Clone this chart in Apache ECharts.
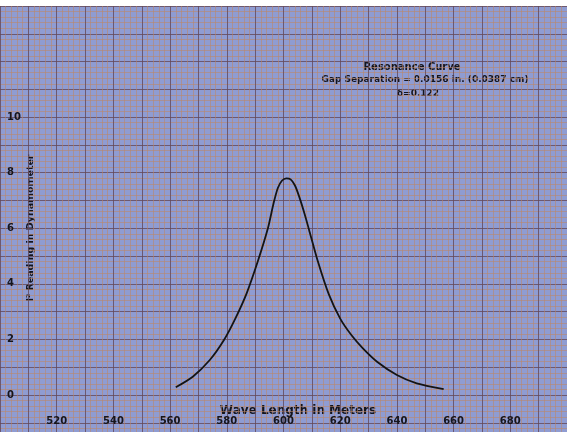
<!DOCTYPE html>
<html>
<head>
<meta charset="utf-8">
<script src="https://cdn.jsdelivr.net/npm/echarts@6/dist/echarts.min.js"></script>
<style>
  html, body { margin: 0; padding: 0; background: #fff; }
  #E1 { width: 567px; height: 432px; }
</style>
</head>
<body>
<div id="E1"></div>
<script>
// wave length (m) and dynamometer reading
var waveLength = [562, 568, 574, 579, 583, 587, 591, 594.5, 596.5, 598, 599.5, 601, 602.5,
                  604, 605.5, 607.5, 609, 612, 616, 620, 624, 628, 633, 640, 647, 656.5];
var reading = [0.28, 0.66, 1.26, 1.98, 2.75, 3.66, 4.83, 6.0, 6.9, 7.45, 7.72, 7.8, 7.76,
               7.55, 7.15, 6.5, 5.95, 4.85, 3.62, 2.75, 2.15, 1.68, 1.2, 0.72, 0.42, 0.21];
var xTicks = [520, 540, 560, 580, 600, 620, 640, 660, 680];
var yTicks = [0, 2, 4, 6, 8, 10];
var titleLines = ['Resonance Curve', 'Gap Separation = 0.0156 in. (0.0387 cm)', 'δ=0.122'];

~function () {
    var myChart = echarts.init(E1);
    var ink = '#15151c';
    var font = 'DejaVu Sans';
    var minorLine = {show: true, lineStyle: {color: 'rgba(190,135,100,0.55)', width: 1}};
    var majorLine = {show: true, lineStyle: {color: 'rgba(100,72,88,0.8)', width: 1}};

    var points = waveLength.map(function (w, i) { return [w, reading[i]]; });

    var option = {
        backgroundColor: '#ffffff',
        animation: false,
        grid: {
            show: true,
            outerBoundsMode: 'none',
            containLabel: false,
            left: 0,
            width: 567,
            top: 6,
            height: 444.6,
            backgroundColor: '#8f9cd2',
            borderWidth: 0
        },
        xAxis: {
            type: 'value',
            min: 500,
            max: 700,
            interval: 10,
            axisLine: {show: false},
            axisTick: {show: false},
            minorTick: {show: false, splitNumber: 5},
            minorSplitLine: minorLine,
            splitLine: majorLine,
            axisLabel: {
                inside: true,
                margin: 24,
                color: ink,
                fontFamily: font,
                fontWeight: 'bold',
                fontSize: 10,
                formatter: function (v) { return xTicks.indexOf(v) >= 0 ? String(v) : ''; }
            }
        },
        yAxis: {
            type: 'value',
            min: -2,
            max: 14,
            interval: 1,
            axisLine: {show: false},
            axisTick: {show: false},
            minorTick: {show: false, splitNumber: 5},
            minorSplitLine: minorLine,
            splitLine: majorLine,
            axisLabel: {
                inside: true,
                margin: 7,
                color: ink,
                fontFamily: font,
                fontWeight: 'bold',
                fontSize: 10,
                formatter: function (v) { return yTicks.indexOf(v) >= 0 ? String(v) : ''; }
            }
        },
        graphic: [
            {type: 'text', x: 412, y: 67, style: {text: titleLines[0], fill: ink, font: 'bold 10px ' + font, align: 'center', verticalAlign: 'middle'}},
            {type: 'text', x: 425, y: 80, style: {text: titleLines[1], fill: ink, font: 'bold 9px ' + font, align: 'center', verticalAlign: 'middle'}},
            {type: 'text', x: 418, y: 94, style: {text: titleLines[2], fill: ink, font: 'bold 9px ' + font, align: 'center', verticalAlign: 'middle'}},
            {type: 'text', x: 298, y: 411, style: {text: 'Wave Length in Meters', fill: ink, font: 'bold 12px ' + font, align: 'center', verticalAlign: 'middle'}},
            {type: 'text', x: 31, y: 228, rotation: Math.PI / 2, style: {text: 'I² Reading in Dynamometer', fill: ink, font: 'bold 9.5px ' + font, align: 'center', verticalAlign: 'middle'}}
        ],
        series: [
            {
                name: 'Resonance',
                type: 'line',
                smooth: 0.25,
                showSymbol: false,
                lineStyle: {color: '#141414', width: 1.8},
                data: points
            }
        ]
    };
    myChart.setOption(option);
}();
</script>
</body>
</html>
